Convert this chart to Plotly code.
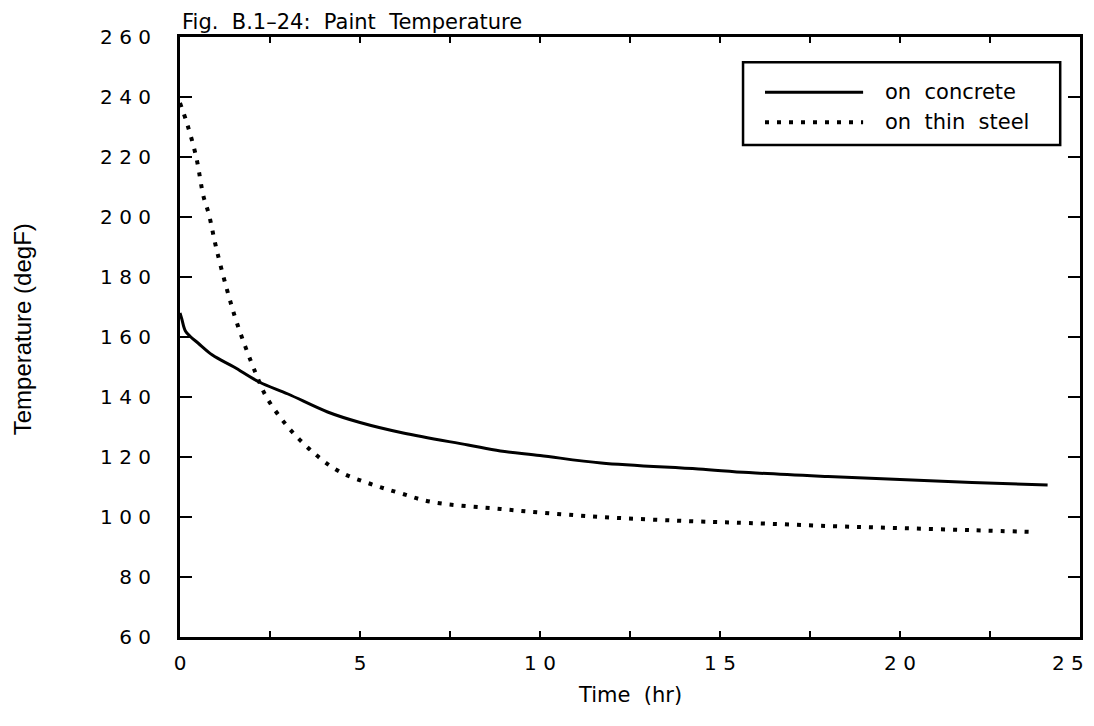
import plotly.graph_objects as go

# ---- data ----
concrete_t = [0, 0.05, 0.15, 0.3, 0.5, 0.9, 1.5, 2.2, 3.0, 4.1, 5.0, 6.2, 8.0, 8.9,
              10.0, 11.7, 14.4, 15.8, 18.0, 20.0, 22.0, 24.1]
concrete_v = [168, 166, 162, 160, 158, 154, 150, 145, 141, 135, 131.5, 128, 124, 122,
              120.5, 118, 116, 114.8, 113.5, 112.5, 111.5, 110.7]

steel_t = [0, 0.2, 0.45, 0.65, 0.8, 1.0, 1.3, 1.6, 2.1, 2.4, 3.0, 3.75, 4.45, 5.3,
           6.1, 7.0, 8.9, 10.0, 11.7, 14.4, 15.8, 18.0, 20.0, 22.0, 23.75]
steel_v = [238, 231, 220, 207, 201, 190, 176, 164, 148, 140, 130, 121, 115, 111,
           108, 105, 102.7, 101.5, 100, 98.5, 98, 97, 96.3, 95.6, 95]

x_tickvals = [0, 2.5, 5, 7.5, 10, 12.5, 15, 17.5, 20, 22.5, 25]
x_ticktext = ["0", "", "5", "", "1 0", "", "1 5", "", "2 0", "", ""]
x_last_label = "2 5"
y_tickvals = [60, 80, 100, 120, 140, 160, 180, 200, 220, 240, 260]
y_ticktext = ["6 0", "8 0", "1 0 0", "1 2 0", "1 4 0", "1 6 0", "1 8 0",
              "2 0 0", "2 2 0", "2 4 0", "2 6 0"]

series_names = ["on  concrete", "on  thin  steel"]

FONT = "DejaVu Sans, Verdana, sans-serif"
solid = dict(color="black", width=3)
dotted = dict(color="black", width=4, dash="4px,8px")

fig = go.Figure()
fig.add_trace(go.Scatter(x=concrete_t, y=concrete_v, mode="lines", name=series_names[0],
                         line=solid, line_shape="spline", showlegend=False))
fig.add_trace(go.Scatter(x=steel_t, y=steel_v, mode="lines", name=series_names[1],
                         line=dotted, line_shape="spline", showlegend=False))

axis_common = dict(showgrid=False, zeroline=False, showline=True, linecolor="black",
                   linewidth=3, mirror="allticks", ticks="inside", tickcolor="black",
                   tickwidth=2, tickfont=dict(family=FONT, size=20, color="black"))

fig.update_xaxes(range=[0, 25], tickmode="array", tickvals=x_tickvals, ticktext=x_ticktext,
                 ticklen=6, ticklabelstandoff=6, **axis_common)
fig.update_yaxes(range=[60, 260], tickmode="array", tickvals=y_tickvals, ticktext=y_ticktext,
                 ticklen=12, ticklabelstandoff=22, **axis_common)

annotations = [
    dict(text="Fig.  B.1–24:  Paint  Temperature", xref="paper", yref="paper",
         x=0.0, y=1.0, xanchor="left", yanchor="bottom", yshift=1, showarrow=False,
         font=dict(family=FONT, size=21, color="black")),
    dict(text="Time  (hr)", xref="paper", yref="paper", x=0.5, y=0, yshift=-58,
         xanchor="center", yanchor="middle", showarrow=False,
         font=dict(family=FONT, size=21, color="black")),
    dict(text="Temperature (degF)", xref="paper", yref="paper", x=-0.175, y=0.512,
         xanchor="center", yanchor="middle", textangle=-90, showarrow=False,
         font=dict(family="Liberation Sans Narrow, Liberation Sans, Arial, sans-serif",
                   size=24, color="black")),
    dict(text=x_last_label, xref="x", yref="paper", x=25, y=0, xanchor="center",
         yanchor="middle", xshift=-12, yshift=-26, showarrow=False,
         font=dict(family=FONT, size=20, color="black")),
]

# manual legend (box, long line samples, labels)
shapes = [
    dict(type="rect", xref="paper", yref="paper", x0=0.6256, x1=0.978, y0=0.82, y1=0.958,
         line=dict(color="black", width=2.5), fillcolor="white", layer="above"),
]
legend_rows = [0.908, 0.858]
legend_styles = [solid, dotted]
for name, yy, st in zip(series_names, legend_rows, legend_styles):
    shapes.append(dict(type="line", xref="paper", yref="paper", x0=0.65, x1=0.759,
                       y0=yy, y1=yy, line=st, layer="above"))
    annotations.append(dict(text=name, xref="paper", yref="paper", x=0.781, y=yy,
                            xanchor="left", yanchor="middle", showarrow=False,
                            font=dict(family=FONT, size=21, color="black")))

# page body has an 8px default margin, so the figure is sized/margined to compensate
fig.update_layout(width=1086, height=718, autosize=False,
                  margin=dict(l=172, r=14, t=29, b=89),
                  paper_bgcolor="white", plot_bgcolor="white",
                  shapes=shapes, annotations=annotations, showlegend=False)

fig.write_html("out.html")
